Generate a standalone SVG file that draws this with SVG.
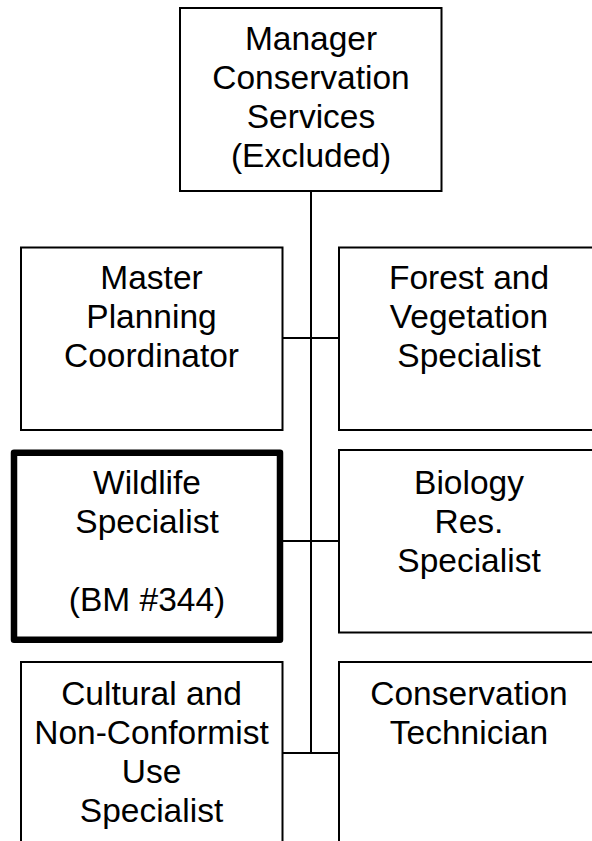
<svg xmlns="http://www.w3.org/2000/svg" width="592" height="841" viewBox="0 0 592 841">
<style>
.box{fill:#fff;stroke:#000;stroke-width:2}
.thick{fill:#fff;stroke:#000;stroke-width:6.5;stroke-linejoin:round}
.t{font-family:"Liberation Sans",Arial,sans-serif;font-size:33.5px;fill:#000;text-anchor:middle}
.c{stroke:#000;stroke-width:2;fill:none}
</style>
<rect width="592" height="841" fill="#fff"/>
<g id="connectors">
<line class="c" x1="311" y1="191" x2="311" y2="754"/>
<line class="c" x1="282" y1="338" x2="339" y2="338"/>
<line class="c" x1="280" y1="541" x2="339" y2="541"/>
<line class="c" x1="282" y1="753" x2="339" y2="753"/>
</g>
<g id="manager">
<rect class="box" x="180" y="8" width="261.5" height="183"/>
<text class="t" x="311" y="50">Manager</text>
<text class="t" x="311" y="89">Conservation</text>
<text class="t" x="311" y="128">Services</text>
<text class="t" x="311" y="167">(Excluded)</text>
</g>
<g id="master">
<rect class="box" x="21" y="247.5" width="261.5" height="182.5"/>
<text class="t" x="151.5" y="289">Master</text>
<text class="t" x="151.5" y="328">Planning</text>
<text class="t" x="151.5" y="367">Coordinator</text>
</g>
<g id="forest">
<rect class="box" x="339" y="247.5" width="260" height="182.5"/>
<text class="t" x="469" y="289">Forest and</text>
<text class="t" x="469" y="328">Vegetation</text>
<text class="t" x="469" y="367">Specialist</text>
</g>
<g id="wildlife">
<rect class="thick" x="14" y="452.7" width="266" height="187"/>
<text class="t" x="147" y="494">Wildlife</text>
<text class="t" x="147" y="533">Specialist</text>
<text class="t" x="147" y="611">(BM #344)</text>
</g>
<g id="biology">
<rect class="box" x="339" y="450" width="260" height="182.5"/>
<text class="t" x="469" y="494">Biology</text>
<text class="t" x="469" y="533">Res.</text>
<text class="t" x="469" y="572">Specialist</text>
</g>
<g id="cultural">
<rect class="box" x="21" y="662" width="261.5" height="200"/>
<text class="t" x="151.5" y="705">Cultural and</text>
<text class="t" x="151.5" y="744">Non-Conformist</text>
<text class="t" x="151.5" y="783">Use</text>
<text class="t" x="151.5" y="822">Specialist</text>
</g>
<g id="technician">
<rect class="box" x="339" y="662" width="260" height="200"/>
<text class="t" x="469" y="705">Conservation</text>
<text class="t" x="469" y="744">Technician</text>
</g>
</svg>
